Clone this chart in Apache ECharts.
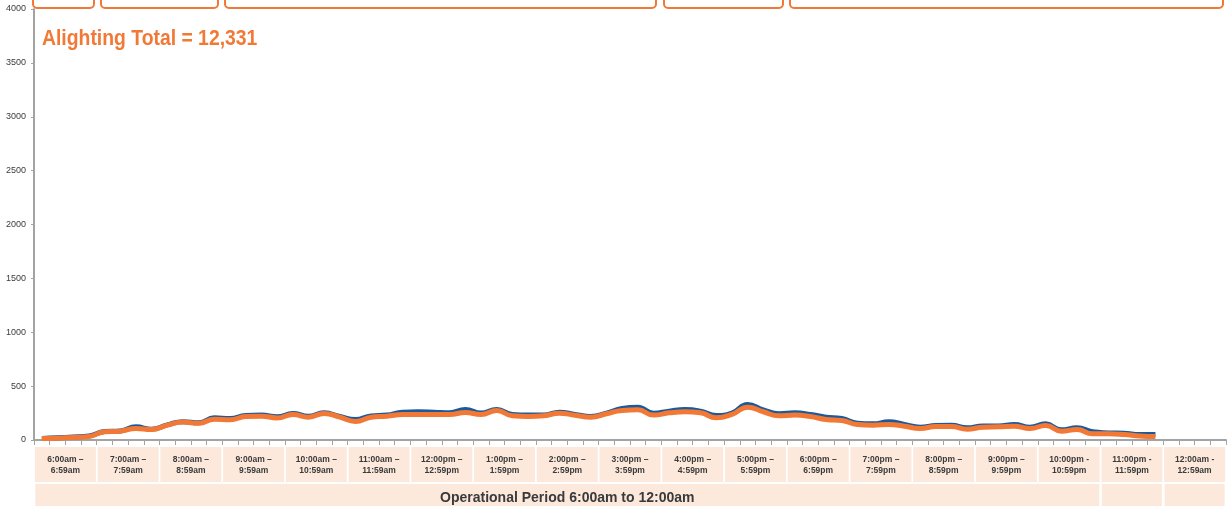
<!DOCTYPE html>
<html>
<head>
<meta charset="utf-8">
<style>
  html, body { margin: 0; padding: 0; background: #ffffff; }
  #chart { width: 1227px; height: 506px; }
</style>
<script src="https://cdn.jsdelivr.net/npm/echarts@6/dist/echarts.min.js"></script>
</head>
<body>
<div id="chart"></div>
<script>
// Hour bands shown under the axis
const hourLabels = [
  "6:00am –\n6:59am", "7:00am –\n7:59am", "8:00am –\n8:59am", "9:00am –\n9:59am",
  "10:00am –\n10:59am", "11:00am –\n11:59am", "12:00pm –\n12:59pm", "1:00pm –\n1:59pm",
  "2:00pm –\n2:59pm", "3:00pm –\n3:59pm", "4:00pm –\n4:59pm", "5:00pm –\n5:59pm",
  "6:00pm –\n6:59pm", "7:00pm –\n7:59pm", "8:00pm –\n8:59pm", "9:00pm –\n9:59pm",
  "10:00pm -\n10:59pm", "11:00pm -\n11:59pm", "12:00am -\n12:59am"
];

// 15-minute slots from 6:00am through 12:45am (4 per hour band)
const slotLabels = [];
hourLabels.forEach(function (h, i) {
  const hr = (6 + i) % 24;
  ["00", "15", "30", "45"].forEach(function (m) { slotLabels.push(hr + ":" + m); });
});

// Boardings per 15-minute slot, 6:00am – 11:45pm
const boardings = [
  14, 20, 28, 38, 78, 84, 122, 100, 140, 170,
  160, 206, 200, 227, 231, 215, 245, 220, 252, 218,
  190, 224, 231, 258, 262, 258, 252, 283, 250, 283,
  237, 231, 231, 258, 237, 218, 249, 292, 305, 249,
  268, 283, 268, 227, 250, 330, 280, 243, 252, 237,
  212, 200, 156, 150, 169, 144, 119, 134, 136, 113,
  130, 130, 144, 119, 150, 94, 113, 76, 66, 63,
  51, 51
];

// Alightings per 15-minute slot, 6:00am – 11:45pm
const alightings = [
  14, 17, 23, 32, 76, 82, 107, 97, 138, 166,
  156, 193, 187, 218, 221, 205, 237, 212, 246, 212,
  172, 212, 221, 237, 237, 237, 237, 255, 237, 274,
  224, 218, 224, 249, 230, 212, 243, 274, 280, 231,
  252, 262, 252, 206, 237, 305, 262, 224, 231, 218,
  190, 181, 144, 138, 144, 128, 107, 125, 125, 100,
  119, 122, 128, 107, 134, 82, 97, 57, 57, 51,
  38, 32
];

const totalText = "Alighting Total = 12,331";
const periodText = "Operational Period 6:00am to 12:00am";

const ORANGE = "#F27935";
const BLUE = "#1A5A9C";
const PEACH = "#FCE9DC";
const AXIS = "#A3A3A3";
const TEXT = "#3A3A3A";
const FONT = "Liberation Sans, Arial, sans-serif";

// Bottom row: one wide cell for the operating period, then two single-hour cells
const periodRow = hourLabels.map(function (h, i) {
  if (i === 8) {
    return { value: periodText, textStyle: { width: 1064, padding: [6, 0, 6, 0], backgroundColor: PEACH } };
  }
  if (i >= 17) {
    return { value: " ", textStyle: { width: 60, padding: [6, 0, 6, 0], backgroundColor: PEACH } };
  }
  return { value: "", textStyle: { backgroundColor: "transparent" } };
});

const chart = echarts.init(document.getElementById("chart"), null, { renderer: "canvas" });

// Bracket frames along the top edge
const frames = [[33, 94], [101, 218], [225, 656], [664, 783], [790, 1223]];

const graphics = frames.map(function (f) {
  return {
    type: "rect",
    shape: { x: f[0], y: -20, width: f[1] - f[0], height: 28, r: 4 },
    style: { fill: "#ffffff", stroke: ORANGE, lineWidth: 2 },
    z: 10
  };
});

// Condensed bold headline with the alighting total
graphics.push({
  type: "text",
  x: 42,
  y: 28,
  scaleX: 0.88,
  style: {
    text: totalText,
    fill: ORANGE,
    font: "bold 22px " + FONT,
    textVerticalAlign: "top"
  },
  z: 10
});

chart.setOption({
  animation: false,
  backgroundColor: "#ffffff",
  graphic: graphics,
  grid: { left: 34, right: 1, top: 9, bottom: 66, containLabel: false, outerBoundsMode: "none" },
  xAxis: [
    {
      type: "category",
      data: slotLabels,
      boundaryGap: true,
      axisLine: { lineStyle: { color: AXIS, width: 2 } },
      axisTick: { show: true, interval: 0, length: 5, lineStyle: { color: AXIS, width: 1 } },
      axisLabel: { show: false },
      splitLine: { show: false }
    },
    {
      type: "category",
      data: hourLabels,
      position: "bottom",
      gridIndex: 0,
      axisLine: { show: false },
      axisTick: { show: false },
      axisLabel: {
        interval: 0,
        margin: 7,
        color: TEXT,
        fontSize: 8.5,
        fontWeight: "bold",
        fontFamily: FONT,
        lineHeight: 11,
        width: 61,
        padding: [7, 0, 6, 0],
        align: "center",
        backgroundColor: PEACH
      }
    },
    {
      type: "category",
      data: periodRow,
      position: "bottom",
      gridIndex: 0,
      axisLine: { show: false },
      axisTick: { show: false },
      axisLabel: {
        interval: 0,
        margin: 44,
        color: TEXT,
        fontSize: 14,
        fontWeight: "bold",
        fontFamily: FONT,
        lineHeight: 16,
        align: "center"
      }
    }
  ],
  yAxis: {
    type: "value",
    min: 0,
    max: 4000,
    interval: 500,
    axisLine: { show: true, lineStyle: { color: AXIS, width: 2 } },
    axisTick: { show: true, length: 3, lineStyle: { color: AXIS } },
    axisLabel: {
      color: TEXT, fontSize: 9, fontFamily: FONT, margin: 8,
      formatter: function (v) { return String(v); }
    },
    splitLine: { show: false }
  },
  series: [
    {
      name: "Boardings",
      type: "line",
      data: boardings,
      smooth: 0.5,
      symbol: "none",
      lineStyle: { color: BLUE, width: 5 },
      z: 2
    },
    {
      name: "Alightings",
      type: "line",
      data: alightings,
      smooth: 0.5,
      symbol: "none",
      lineStyle: { color: ORANGE, width: 5 },
      z: 3
    }
  ]
});
</script>
</body>
</html>
